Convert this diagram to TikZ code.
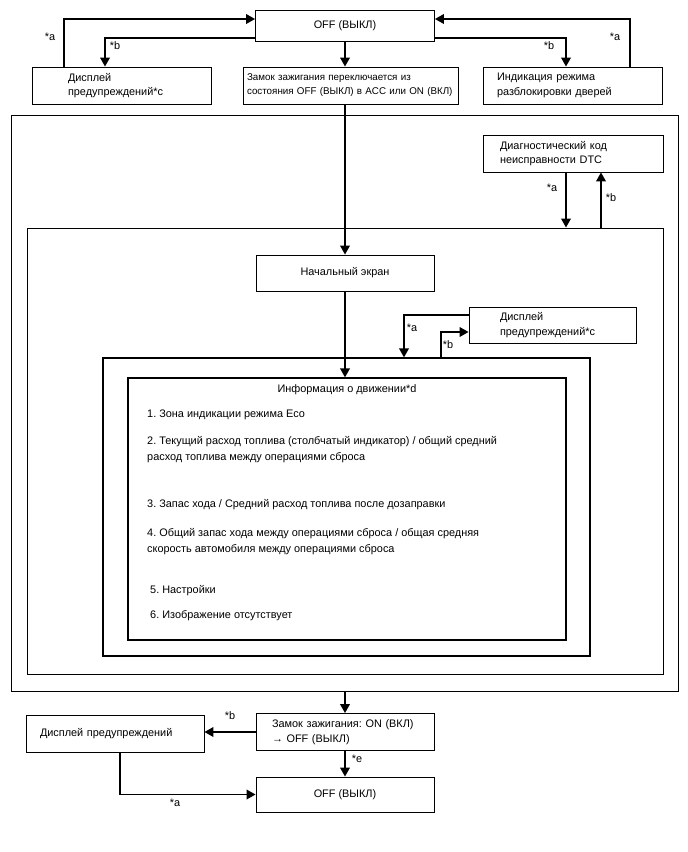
\documentclass[tikz,border=0pt]{standalone}
\usepackage{fontspec}
\setmainfont{Liberation Sans}
\usetikzlibrary{arrows.meta}
\frenchspacing
\begin{document}
\begin{tikzpicture}[x=1pt,y=-1pt,
  every node/.style={font=\fontsize{10.9}{14.5}\selectfont},
  box/.style={draw, line width=0.8pt, inner sep=0pt, align=center},
  lbox/.style={draw, line width=0.8pt, inner ysep=0pt, align=left},
  frame/.style={draw, line width=0.9pt, inner sep=0pt},
  arr/.style={line width=1.9pt, -{Triangle[width=9.5pt,length=9pt]}},
  lbl/.style={inner sep=0pt},
  txt/.style={inner sep=0pt, anchor=west, align=left, font=\fontsize{10.9}{16}\selectfont}]
\useasboundingbox (0,0) rectangle (688,852);
% containers
\node[frame, minimum width=667, minimum height=576] (outer) at (344.5,403) {};
\node[frame, minimum width=636, minimum height=446] (mid) at (345,451) {};
\node[frame, line width=1.2pt, minimum width=487, minimum height=298] (third) at (346.5,507) {};
\node[frame, line width=1.2pt, minimum width=438, minimum height=262] (info) at (347,509) {};
% top
\node[box, minimum width=179, minimum height=31] (offT) at (345,25.5) {OFF (ВЫКЛ)};
\node[lbox, minimum height=37, inner xsep=36pt, text width=107pt] (wl) at (121.5,85.5) {Дисплей\\предупреждений*c};
\node[lbox, minimum height=37, inner xsep=4pt, text width=207pt, font=\fontsize{9.8}{14}\selectfont] (ctr) at (350.5,85.5) {Замок зажигания переключается из\\состояния OFF (ВЫКЛ) в ACC или ON (ВКЛ)};
\node[lbox, minimum height=37, inner xsep=14pt, text width=151pt] (wr) at (572.5,85.5) {Индикация режима\\разблокировки дверей};
% DTC
\node[lbox, minimum height=37, inner xsep=17pt, text width=146pt] (dtc) at (573,153.5) {Диагностический код\\неисправности DTC};
\node[box, minimum width=178, minimum height=36] (start) at (345,273) {Начальный экран};
\node[lbox, minimum height=36, inner xsep=31pt, text width=105pt] (wm) at (552.5,325) {Дисплей\\предупреждений*c};
% info texts
\node[inner sep=0pt] (t0) at (347,390) {Информация о движении*d};
\node[txt] (t1) at (147,415) {1. Зона индикации режима Eco};
\node[txt] (t2) at (147,450) {2. Текущий расход топлива (столбчатый индикатор) / общий средний\\расход топлива между операциями сброса};
\node[txt] (t3) at (147,505) {3. Запас хода / Средний расход топлива после дозаправки};
\node[txt] (t4) at (147,542) {4. Общий запас хода между операциями сброса / общая средняя\\скорость автомобиля между операциями сброса};
\node[txt] (t5) at (150,591) {5. Настройки};
\node[txt] (t6) at (150,616) {6. Изображение отсутствует};
% bottom
\node[lbox, minimum height=37, inner xsep=16pt, text width=146pt] (ign) at (345,732) {Замок зажигания: ON (ВКЛ)\\\textrightarrow{} OFF (ВЫКЛ)};
\node[lbox, minimum height=37, inner xsep=14pt, text width=150pt] (wb) at (115,733.5) {Дисплей предупреждений};
\node[box, minimum width=178, minimum height=35] (offB) at (345,794.5) {OFF (ВЫКЛ)};
% connectors top
\draw[arr] (wl.north -| 64,0) |- (offT.west |- 0,19);
\node[lbl] (la1) at (50,37) {*a};
\draw[arr] (offT.west |- 0,38) -| (wl.north -| 105,0);
\node[lbl] (lb1) at (115,46) {*b};
\draw[arr] (offT.south) -- (offT.south |- ctr.north);
\draw[arr] (offT.east |- 0,38) -| (wr.north -| 566,0);
\node[lbl] (lb2) at (549,46) {*b};
\draw[arr] (wr.north -| 630,0) |- (offT.east |- 0,19);
\node[lbl] (la2) at (615,37) {*a};
\draw[arr] (start.north |- ctr.south) -- (start.north);
% DTC
\draw[arr] (dtc.south -| 566,0) -- (mid.north -| 566,0);
\node[lbl] (la3) at (552,188) {*a};
\draw[arr] (mid.north -| 601,0) -- (dtc.south -| 601,0);
\node[lbl] (lb3) at (611,198) {*b};
% middle
\draw[arr] (start.south) -- (start.south |- info.north);
\draw[arr] (wm.west |- 0,315) -| (third.north -| 404,0);
\node[lbl] (la4) at (412,328) {*a};
\draw[arr] (third.north -| 441,0) |- (wm.west |- 0,332);
\node[lbl] (lb4) at (448,345) {*b};
% bottom
\draw[arr] (outer.south -| 345,0) -- (ign.north);
\draw[arr] (ign.west) -- (ign.west -| wb.east);
\node[lbl] (lb5) at (230,716) {*b};
\draw[arr] (wb.south -| 120,0) |- (offB.west);
\node[lbl] (la5) at (175,803) {*a};
\draw[arr] (ign.south) -- (offB.north);
\node[lbl] (le) at (357,759) {*e};
\end{tikzpicture}
\end{document}
